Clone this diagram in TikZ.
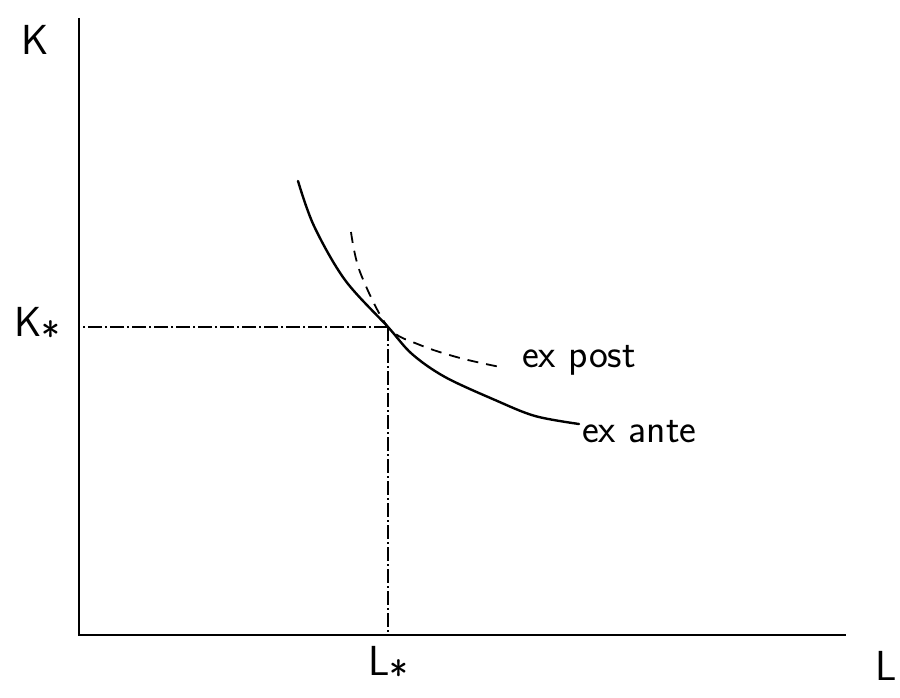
\documentclass[tikz,border=0pt]{standalone}
\usepackage{tikz}
\usetikzlibrary{positioning}

\tikzset{
  axis/.style={line width=2.4pt},
  guide/.style={line width=1.1pt, dash pattern=on 14pt off 3pt on 2pt off 3pt},
  curvelbl/.style={font=\fontsize{40}{46}\selectfont\sffamily, inner sep=0pt},
  axislbl/.style={font=\fontsize{42}{48}\selectfont\sffamily, inner sep=0pt},
}
\newcommand{\stsub}{\raisebox{-14pt}[0pt][0pt]{\fontsize{40}{40}\selectfont *}}

\begin{document}
\begin{tikzpicture}[x=1pt, y=-1pt]
  \useasboundingbox (0,0) rectangle (900,698);

  \coordinate (O)    at (79,635);
  \coordinate (Ktop) at (79,18);
  \coordinate (Lend) at (846,635);
  \coordinate (E)    at (388,327);

  % axes
  \draw[axis] (Ktop) -- (O) -- (Lend);

  % guides to the point
  \draw[guide] (E) -- (E -| O);
  \draw[guide] (E) -- (E |- O);

  % ex ante isoquant
  \coordinate (anteA) at (298,181);
  \coordinate (anteB) at (579,424);
  \draw[line width=2.4pt, line cap=round] plot[smooth, tension=0.55]
    coordinates {(anteA) (314,226) (345,280) (E) (412,354)
                 (445,377) (495,400) (535,416) (anteB)};

  % ex post isoquant
  \coordinate (postA) at (351,232);
  \coordinate (postB) at (500,367);
  \draw[line width=1.8pt, dash pattern=on 11pt off 8pt] plot[smooth, tension=0.55]
    coordinates {(postA) (360,272) (E) (420,345) (460,358) (postB)};

  % labels
  \node (post) [curvelbl, anchor=west] at (522,360) {ex post};
  \node (ante) [curvelbl, anchor=west] at (582,432) {ex ante};

  \node (K)    [axislbl] at (35,40)  {K};
  \node (Kst)  [axislbl, anchor=west] at (14,322) {K\stsub};
  \node (L)    [axislbl] at (886,666) {L};
  \node (Lst)  [axislbl, anchor=north west] at (368,646) {L\stsub};
\end{tikzpicture}
\end{document}
